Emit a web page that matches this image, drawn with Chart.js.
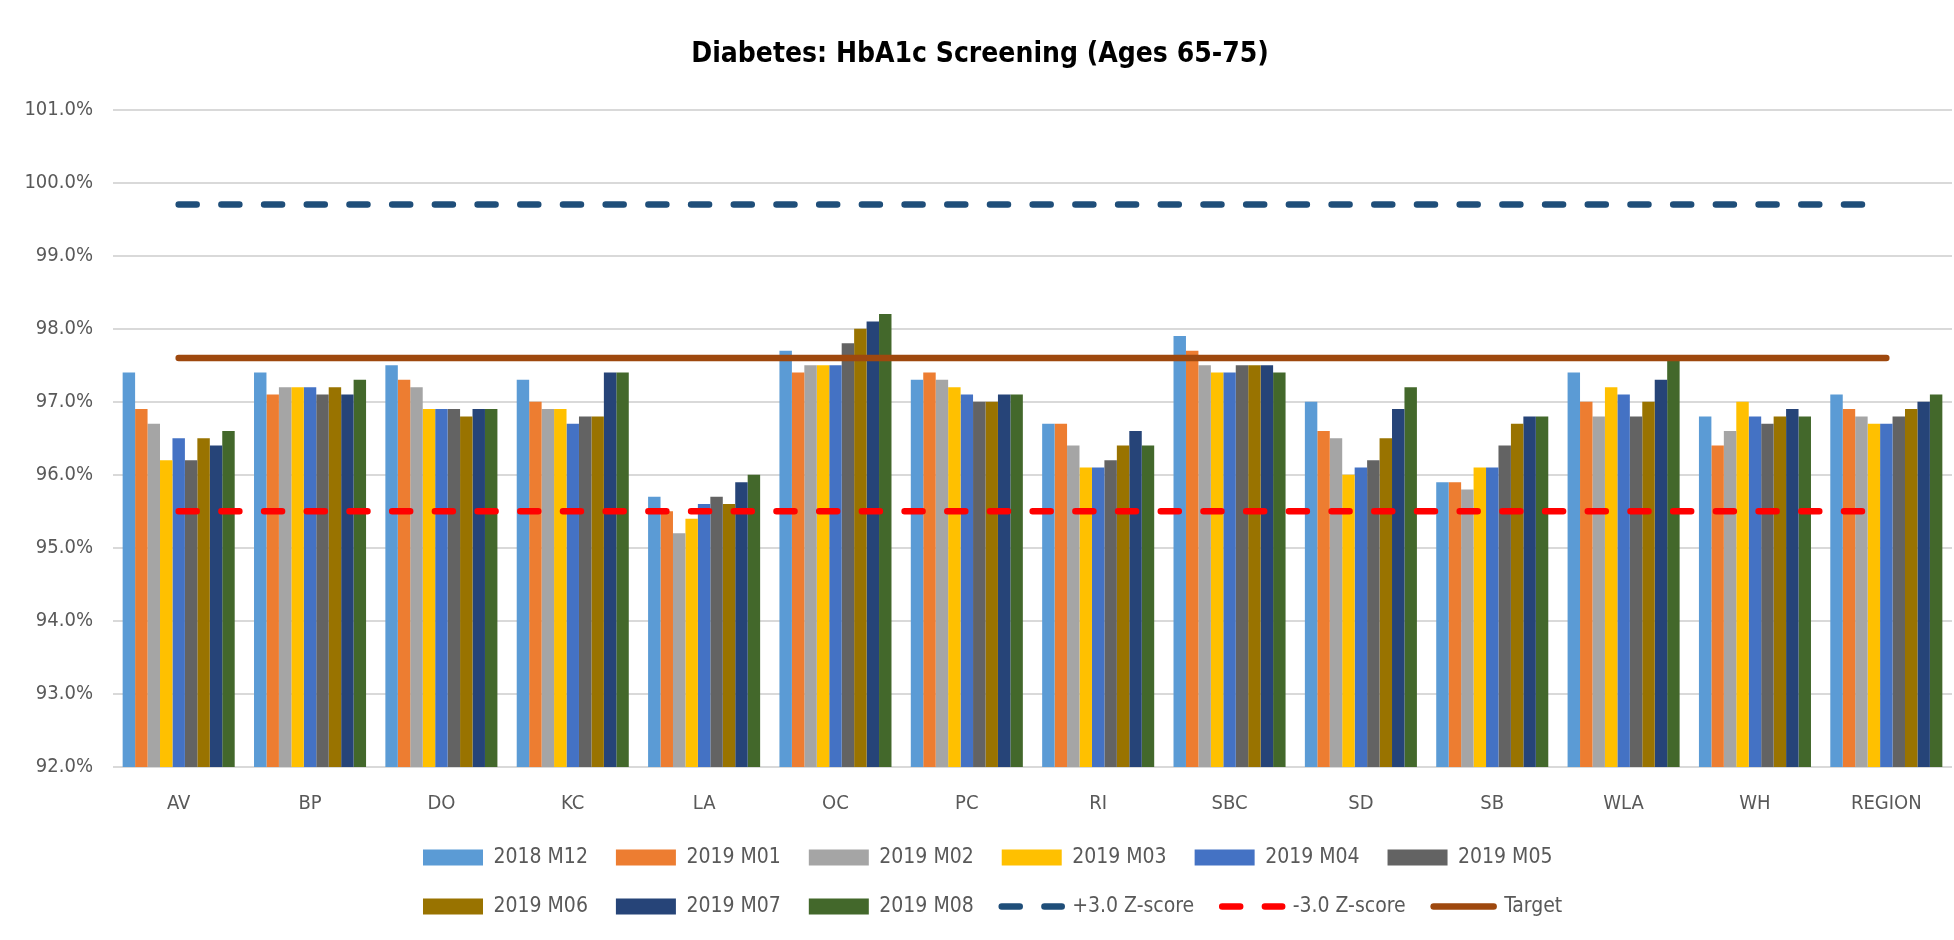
<!DOCTYPE html>
<html>
<head>
<meta charset="utf-8">
<script src="https://cdn.jsdelivr.net/npm/chart.js@4"></script>
<style>
  html, body { margin: 0; padding: 0; background: #fff; }
  #wrap { width: 1954px; height: 940px; position: relative; }
</style>
</head>
<body>
<div id="wrap"><canvas id="hba1c"></canvas></div>
<script>
const categories = ['AV', 'BP', 'DO', 'KC', 'LA', 'OC', 'PC', 'RI', 'SBC', 'SD', 'SB', 'WLA', 'WH', 'REGION'];

// monthly screening rates (%), one array per reporting month
const m2018M12 = [97.4, 97.4, 97.5, 97.3, 95.7, 97.7, 97.3, 96.7, 97.9, 97.0, 95.9, 97.4, 96.8, 97.1];
const m2019M01 = [96.9, 97.1, 97.3, 97.0, 95.5, 97.4, 97.4, 96.7, 97.7, 96.6, 95.9, 97.0, 96.4, 96.9];
const m2019M02 = [96.7, 97.2, 97.2, 96.9, 95.2, 97.5, 97.3, 96.4, 97.5, 96.5, 95.8, 96.8, 96.6, 96.8];
const m2019M03 = [96.2, 97.2, 96.9, 96.9, 95.4, 97.5, 97.2, 96.1, 97.4, 96.0, 96.1, 97.2, 97.0, 96.7];
const m2019M04 = [96.5, 97.2, 96.9, 96.7, 95.6, 97.5, 97.1, 96.1, 97.4, 96.1, 96.1, 97.1, 96.8, 96.7];
const m2019M05 = [96.2, 97.1, 96.9, 96.8, 95.7, 97.8, 97.0, 96.2, 97.5, 96.2, 96.4, 96.8, 96.7, 96.8];
const m2019M06 = [96.5, 97.2, 96.8, 96.8, 95.6, 98.0, 97.0, 96.4, 97.5, 96.5, 96.7, 97.0, 96.8, 96.9];
const m2019M07 = [96.4, 97.1, 96.9, 97.4, 95.9, 98.1, 97.1, 96.6, 97.5, 96.9, 96.8, 97.3, 96.9, 97.0];
const m2019M08 = [96.6, 97.3, 96.9, 97.4, 96.0, 98.2, 97.1, 96.4, 97.4, 97.2, 96.8, 97.6, 96.8, 97.1];

// reference lines
const zPlus3 = [99.7, 99.7, 99.7, 99.7, 99.7, 99.7, 99.7, 99.7, 99.7, 99.7, 99.7, 99.7, 99.7, 99.7];
const zMinus3 = [95.5, 95.5, 95.5, 95.5, 95.5, 95.5, 95.5, 95.5, 95.5, 95.5, 95.5, 95.5, 95.5, 95.5];
const target = [97.6, 97.6, 97.6, 97.6, 97.6, 97.6, 97.6, 97.6, 97.6, 97.6, 97.6, 97.6, 97.6, 97.6];

const yTicks = [92, 93, 94, 95, 96, 97, 98, 99, 100, 101];

const monthSeries = [
    ['2018 M12', m2018M12, '#5B9BD5'],
    ['2019 M01', m2019M01, '#ED7D31'],
    ['2019 M02', m2019M02, '#A5A5A5'],
    ['2019 M03', m2019M03, '#FFC000'],
    ['2019 M04', m2019M04, '#4472C4'],
    ['2019 M05', m2019M05, '#636363'],
    ['2019 M06', m2019M06, '#997300'],
    ['2019 M07', m2019M07, '#264478'],
    ['2019 M08', m2019M08, '#43682B']
];

const datasets = monthSeries.map(([label, data, color]) => ({
    label: label,
    data: data,
    backgroundColor: color,
    borderWidth: 0,
    categoryPercentage: 0.853,
    barPercentage: 1.0
}));

function refLine(label, data, color, dash) {
    return {
        type: 'line',
        label: label,
        data: data,
        borderColor: color,
        backgroundColor: color,
        borderWidth: 6.5,
        borderDash: dash,
        borderCapStyle: 'round',
        pointRadius: 0,
        fill: false,
        order: -1 // draw over the bars
    };
}
datasets.push(refLine('+3.0 Z-score', zPlus3, '#1F4E79', [18, 24.7]));
datasets.push(refLine('-3.0 Z-score', zMinus3, '#FF0000', [18, 24.7]));
datasets.push(refLine('Target', target, '#9E480E', []));

// the legend wraps after six items like the original; Chart.js only wraps
// on the full canvas width, so give it a narrower window for fit and draw
const legendRows = {
    id: 'legendRows',
    afterInit(chart, args, opts) {
        const lg = chart.legend;
        const fitRows = lg._fitRows;
        const draw = lg._draw;
        lg._fitRows = function (...a) {
            const full = this.maxWidth;
            this.maxWidth = Math.min(full, opts.rowWidth);
            const h = fitRows.apply(this, a);
            this.maxWidth = full;
            return h;
        };
        lg._draw = function (...a) {
            const l = this.left, r = this.right;
            this.left = opts.left;
            this.right = opts.left + opts.rowWidth;
            draw.apply(this, a);
            this.left = l;
            this.right = r;
        };
    }
};

Chart.defaults.font.family = "'DejaVu Sans Condensed', 'DejaVu Sans', sans-serif";
Chart.defaults.color = '#595959';

const ctx = document.getElementById('hba1c').getContext('2d');
const hba1cChart = new Chart(ctx, {
    type: 'bar',
    data: { labels: categories, datasets: datasets },
    plugins: [legendRows],
    options: {
        responsive: true,
        maintainAspectRatio: false,
        animation: false,
        layout: { padding: { left: 8, right: 2, top: 0, bottom: 13 } },
        scales: {
            x: {
                grid: { display: false },
                border: { display: false },
                ticks: { font: { size: 20 }, padding: 17, color: '#595959' },
                afterFit: s => { s.height = 52; }
            },
            y: {
                min: yTicks[0],
                max: yTicks[yTicks.length - 1],
                afterBuildTicks: s => { s.ticks = yTicks.map(v => ({ value: v })); },
                grid: { color: '#D9D9D9', lineWidth: 2, drawTicks: false },
                border: { display: false },
                ticks: {
                    font: { size: 20 },
                    padding: 20,
                    color: '#595959',
                    callback: v => v.toFixed(1) + '%'
                },
                afterFit: s => { s.width = 105; }
            }
        },
        plugins: {
            legendRows: { rowWidth: 1300, left: 395 },
            title: {
                display: true,
                text: 'Diabetes: HbA1c Screening (Ages 65-75)',
                color: '#000',
                font: { size: 28, weight: 'bold', lineHeight: 1.2 },
                padding: { top: 38, bottom: 38 }
            },
            legend: {
                position: 'bottom',
                align: 'start',
                labels: {
                    font: { size: 21 },
                    color: '#595959',
                    usePointStyle: true,
                    pointStyleWidth: 60,
                    boxHeight: 16,
                    padding: 28,
                    // bars get a flat box, the reference lines keep their dash
                    generateLabels: chart => {
                        const items = Chart.defaults.plugins.legend.labels.generateLabels(chart);
                        items.forEach(it => {
                            const ds = chart.data.datasets[it.datasetIndex];
                            if (ds.type === 'line') {
                                it.pointStyle = 'line';
                                it.lineWidth = ds.borderWidth;
                                it.lineDash = ds.borderDash;
                                it.lineCap = 'round';
                                it.strokeStyle = ds.borderColor;
                            } else {
                                it.pointStyle = 'rect';
                                it.lineWidth = 0;
                            }
                        });
                        return items.sort((a, b) => a.datasetIndex - b.datasetIndex);
                    }
                }
            },
            tooltip: { enabled: false }
        }
    }
});
</script>
</body>
</html>
